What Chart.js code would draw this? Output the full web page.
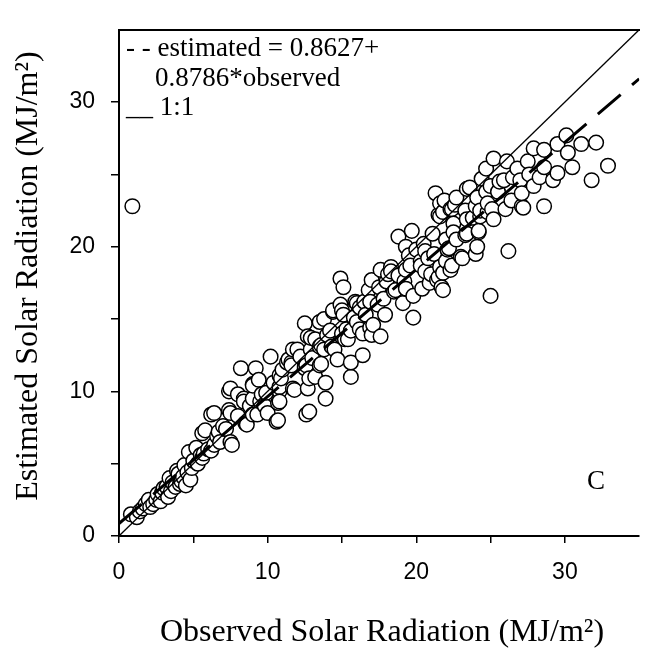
<!DOCTYPE html>
<html>
<head>
<meta charset="utf-8">
<script src="https://cdn.jsdelivr.net/npm/chart.js@4.4.1/dist/chart.umd.min.js"></script>
<style>
    html, body { margin: 0; padding: 0; background: #fff; overflow: hidden; }
    #wrap { position: relative; width: 648px; height: 654px; }
</style>
</head>
<body>
<div id="wrap"><canvas id="solarChart" width="648" height="654"></canvas></div>
<script>
// observed vs estimated daily solar radiation (MJ/m²)
const observed = [
    0.8, 1.2, 1.4, 1.6, 1.8, 2.0, 2.1, 2.3, 2.5, 2.6,
    2.8, 2.9, 3.0, 3.2, 3.3, 3.4, 3.5, 3.6, 3.8, 3.9,
    4.0, 4.1, 4.2, 4.3, 4.4, 4.5, 4.6, 4.7, 4.8, 4.9,
    5.0, 5.2, 5.3, 5.5, 5.6, 5.6, 5.7, 5.8, 6.0, 6.2,
    6.2, 6.4, 6.4, 6.6, 6.7, 6.8, 7.0, 7.2, 7.4, 7.4,
    7.5, 7.5, 7.5, 7.6, 8.0, 8.0, 8.2, 8.4, 8.4, 8.5,
    8.6, 8.8, 9.0, 9.0, 9.0, 9.0, 9.2, 9.3, 9.4, 9.5,
    9.6, 9.8, 9.9, 10.0, 10.2, 10.4, 10.6, 10.7, 10.7, 10.8,
    10.8, 10.8, 10.8, 10.9, 11.0, 11.3, 11.4, 11.6, 11.6, 11.7,
    11.7, 11.8, 12.0, 12.2, 12.5, 12.5, 12.5, 12.6, 12.6, 12.7,
    12.8, 12.7, 12.8, 12.9, 12.9, 13.0, 13.2, 13.2, 13.5, 13.5,
    13.5, 13.6, 13.6, 13.8, 13.8, 13.9, 13.9, 14.0, 14.2, 14.3,
    14.4, 14.4, 14.5, 14.7, 14.9, 14.9, 15.0, 15.0, 15.1, 15.1,
    15.2, 15.3, 15.4, 15.6, 15.6, 15.6, 15.8, 15.9, 16.0, 16.0,
    16.2, 16.2, 16.4, 16.4, 16.5, 16.6, 16.8, 16.9, 16.9, 17.0,
    17.0, 17.1, 17.4, 17.5, 17.6, 17.6, 17.8, 17.9, 18.0, 18.1,
    18.3, 18.3, 18.5, 18.6, 18.8, 18.8, 19.1, 19.2, 19.3, 19.3,
    19.3, 19.5, 19.6, 19.7, 19.8, 19.8, 20.0, 20.3, 20.3, 20.4,
    20.5, 20.6, 20.6, 20.8, 20.9, 21.0, 21.1, 21.2, 21.3, 21.4,
    21.5, 21.5, 21.6, 21.6, 21.6, 21.7, 21.8, 21.8, 21.8, 21.9,
    22.0, 22.0, 22.1, 22.2, 22.3, 22.3, 22.4, 22.4, 22.5, 22.5,
    22.6, 22.7, 22.7, 23.0, 23.1, 23.3, 23.3, 23.4, 23.4, 23.4,
    23.6, 23.8, 24.0, 24.0, 24.1, 24.1, 24.2, 24.2, 24.3, 24.3,
    24.4, 24.7, 24.7, 24.8, 24.8, 25.0, 25.0, 25.1, 25.2, 25.2,
    25.5, 25.6, 25.9, 26.0, 26.1, 26.2, 26.4, 26.5, 26.8, 27.0,
    27.1, 27.1, 27.2, 27.5, 27.6, 27.9, 27.9, 28.3, 28.6, 28.6,
    28.6, 29.2, 29.5, 29.5, 30.1, 30.2, 30.5, 31.1, 31.8, 32.1,
    32.9, 0.9
];
const estimated = [
    1.5, 1.3, 1.7, 1.9, 2.2, 2.5, 2.0, 2.2, 2.5, 2.9,
    2.4, 3.0, 3.3, 3.4, 2.7, 4.0, 3.1, 3.7, 3.4, 4.5,
    4.3, 3.6, 3.8, 4.1, 4.9, 3.5, 4.4, 5.8, 3.9, 4.7,
    5.2, 6.1, 5.0, 5.6, 7.1, 5.4, 5.7, 7.3, 6.0, 8.4,
    5.9, 6.3, 8.5, 6.9, 7.2, 6.5, 7.6, 7.4, 10.0, 8.7,
    6.5, 8.5, 10.2, 6.3, 8.3, 9.8, 11.6, 9.5, 9.3, 7.8,
    7.7, 9.0, 10.5, 9.5, 8.4, 10.4, 11.6, 8.4, 10.8, 9.3,
    9.8, 9.0, 9.9, 8.5, 12.4, 10.6, 7.9, 9.2, 8.0, 10.0,
    10.3, 11.1, 9.3, 10.9, 11.5, 12.0, 12.2, 12.0, 11.8, 10.2,
    12.9, 10.1, 12.9, 12.4, 11.7, 14.7, 11.6, 8.4, 11.8, 10.2,
    8.6, 13.8, 10.9, 12.9, 13.7, 12.3, 13.6, 11.0, 11.8, 14.8,
    13.1, 13.2, 11.9, 12.9, 15.0, 9.5, 10.6, 13.9, 14.2, 13.1,
    15.5, 15.6, 12.9, 12.2, 17.8, 16.0, 15.6, 14.0, 17.2, 15.3,
    13.6, 14.3, 13.6, 14.2, 11.0, 12.0, 15.1, 16.2, 16.1, 14.8,
    15.8, 14.3, 14.0, 12.5, 16.2, 15.3, 17.0, 16.2, 14.4, 17.7,
    13.9, 14.6, 16.0, 17.2, 18.4, 13.8, 16.4, 15.3, 17.6, 18.1,
    18.6, 18.3, 16.9, 17.0, 20.7, 18.0, 16.1, 17.6, 20.0, 17.1,
    18.4, 19.4, 18.7, 21.1, 16.6, 15.1, 19.8, 19.0, 18.7, 17.1,
    20.2, 19.7, 18.3, 19.2, 17.5, 18.1, 20.9, 19.5, 23.7, 17.7,
    22.2, 17.9, 22.1, 23.0, 18.6, 17.2, 17.0, 22.4, 18.2, 23.2,
    20.5, 19.0, 19.8, 19.9, 22.6, 18.4, 22.6, 18.7, 21.6, 21.0,
    22.9, 20.5, 23.4, 19.3, 19.2, 20.8, 22.5, 24.0, 21.9, 20.9,
    24.1, 22.0, 22.8, 19.5, 20.0, 23.4, 21.0, 21.1, 22.1, 22.5,
    24.7, 23.8, 25.4, 22.4, 23.0, 24.2, 16.6, 22.6, 26.1, 21.9,
    23.8, 24.5, 24.6, 22.6, 25.9, 19.7, 23.2, 24.8, 25.4, 24.6,
    22.8, 23.7, 22.7, 25.9, 25.0, 26.8, 24.2, 24.8, 26.7, 25.5,
    22.8, 24.6, 27.1, 25.1, 27.7, 26.5, 25.5, 27.1, 24.6, 27.2,
    25.6, 22.8
];

// regression from the figure legend
const fitIntercept = 0.8627;
const fitSlope = 0.8786;
const axisRange = [0, 35];
const labelledTicks = [0, 10, 20, 30];

const points = observed.map((x, i) => ({ x, y: estimated[i] }));
const oneToOne = axisRange.map(v => ({ x: v, y: v }));
const fitLine = axisRange.map(v => ({ x: v, y: fitIntercept + fitSlope * v }));

const SERIF = '"Liberation Serif", "Times New Roman", serif';
const SANS = '"Liberation Sans", Arial, sans-serif';

// text that the library has no slot for: legend note, panel letter, axis titles
const annotations = {
    id: 'annotations',
    afterDraw(chart) {
        const ctx = chart.ctx;
        ctx.save();
        ctx.fillStyle = '#000';
        ctx.textBaseline = 'middle';
        ctx.textAlign = 'left';
        ctx.font = '27px ' + SERIF;
        ctx.fillText('- - estimated = 0.8627+', 126, 49);
        ctx.fillText('0.8786*observed', 155, 79);
        ctx.fillText('__ 1:1', 126, 108);
        ctx.fillText('C', 587, 482);

        ctx.font = '32px ' + SERIF;
        ctx.textAlign = 'center';
        ctx.textBaseline = 'alphabetic';
        ctx.fillText('Observed Solar Radiation (MJ/m²)', 382, 641);

        ctx.translate(37, 276);
        ctx.rotate(-Math.PI / 2);
        ctx.fillText('Estimated Solar Radiation (MJ/m²)', 0, 0);
        ctx.restore();
    }
};

function dropEndTick(scale) {
    scale.ticks = scale.ticks.filter(t => t.value < axisRange[1]);
}

const tickOpts = {
    stepSize: 5,
    autoSkip: false,
    maxRotation: 0,
    color: '#000',
    font: { family: SANS, size: 23 },
    callback: v => labelledTicks.includes(v) ? v : ''
};

new Chart(document.getElementById('solarChart'), {
    type: 'scatter',
    data: {
        datasets: [
            {
                label: '1:1',
                data: oneToOne,
                showLine: true,
                pointRadius: 0,
                borderColor: '#000',
                borderWidth: 1.3,
                order: 0
            },
            {
                label: 'fit',
                data: fitLine,
                showLine: true,
                pointRadius: 0,
                borderColor: '#000',
                borderWidth: 3,
                borderDash: [30, 15],
                order: 0
            },
            {
                label: 'days',
                data: points,
                pointRadius: 7.3,
                pointBorderWidth: 1.5,
                pointBackgroundColor: '#fff',
                pointBorderColor: '#000',
                order: 1
            }
        ]
    },
    options: {
        responsive: false,
        animation: false,
        devicePixelRatio: 1,
        events: [],
        layout: { padding: { top: 7, right: 2, left: 0, bottom: 0 } },
        plugins: { legend: { display: false }, tooltip: { enabled: false } },
        scales: {
            x: {
                type: 'linear',
                min: axisRange[0],
                max: axisRange[1],
                afterBuildTicks: dropEndTick,
                afterFit: s => { s.height = 118; },
                ticks: { ...tickOpts, padding: 16 },
                grid: { drawOnChartArea: false, drawTicks: true, tickLength: 7, color: '#000', lineWidth: 1.5 },
                border: { display: true, color: '#000', width: 2 }
            },
            xTop: {
                type: 'linear',
                position: 'top',
                min: axisRange[0],
                max: axisRange[1],
                afterFit: s => { s.height = 0; },
                ticks: { display: false },
                grid: { drawOnChartArea: false, drawTicks: false },
                border: { display: true, color: '#000', width: 2 }
            },
            y: {
                type: 'linear',
                min: axisRange[0],
                max: axisRange[1],
                afterBuildTicks: dropEndTick,
                afterFit: s => { s.width = 119; },
                ticks: { ...tickOpts, padding: 16 },
                grid: { drawOnChartArea: false, drawTicks: true, tickLength: 8, color: '#000', lineWidth: 1.5 },
                border: { display: true, color: '#000', width: 2 }
            }
        }
    },
    plugins: [annotations]
});
</script>
</body>
</html>
